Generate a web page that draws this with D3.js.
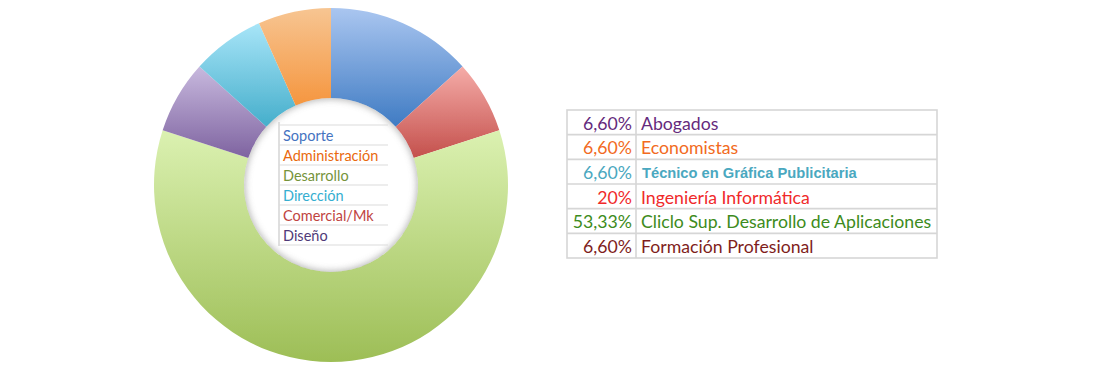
<!DOCTYPE html>
<html>
<head>
<meta charset="utf-8">
<script src="https://cdn.jsdelivr.net/npm/d3@7"></script>
<style>
  html, body { margin: 0; padding: 0; background: #ffffff; }
  svg { display: block; }
</style>
</head>
<body>
<svg id="chart" width="1110" height="370"></svg>
<script>
// ---- data ----
const sliceCategories = ["Soporte", "Comercial/Mk", "Desarrollo", "Diseño", "Dirección", "Administración"];
const sliceValues = [2, 1, 9, 1, 1, 1];
const sliceBaseColors = ["#3f7bc3", "#c4504c", "#9dbe56", "#7e63a0", "#45aecb", "#f5963f"];
const sliceLightColors = ["#aac6f0", "#f5aca8", "#dbf1b1", "#c8b9de", "#a8e5f8", "#f7c592"];

const legendCategories = ["Soporte", "Administración", "Desarrollo", "Dirección", "Comercial/Mk", "Diseño"];
const legendColors = ["#4573bf", "#e9690e", "#75933a", "#35aed0", "#c0443f", "#4f3a78"];

const tablePercents = ["6,60%", "6,60%", "6,60%", "20%", "53,33%", "6,60%"];
const tableLabels = ["Abogados", "Economistas", "Técnico en Gráfica Publicitaria", "Ingeniería Informática", "Cliclo Sup. Desarrollo de Aplicaciones", "Formación Profesional"];
const tableColors = ["#652a7c", "#f26a22", "#4aa8c0", "#f02a2a", "#3d8b20", "#7f1e1c"];

// ---- layout ----
const svg = d3.select("#chart");
const cx = 331, cy = 185, outerR = 177, innerR = 87;
const defs = svg.append("defs");

sliceCategories.forEach((c, i) => {
  const g = defs.append("linearGradient")
    .attr("id", "grad" + i).attr("x1", 0).attr("y1", 0).attr("x2", 0).attr("y2", 1);
  g.append("stop").attr("offset", "0%").attr("stop-color", sliceLightColors[i]);
  g.append("stop").attr("offset", "100%").attr("stop-color", sliceBaseColors[i]);
});

const blur = defs.append("filter").attr("id", "blur").attr("x", "-20%").attr("y", "-20%").attr("width", "140%").attr("height", "140%");
blur.append("feGaussianBlur").attr("stdDeviation", 3.5);
const softEdge = defs.append("filter").attr("id", "soft").attr("x", "-10%").attr("y", "-10%").attr("width", "120%").attr("height", "120%");
softEdge.append("feGaussianBlur").attr("stdDeviation", 0.6);

defs.append("clipPath").attr("id", "holeClip")
  .append("circle").attr("cx", cx).attr("cy", cy).attr("r", innerR);

const pie = d3.pie().sort(null).value(d => d);
const arc = d3.arc().innerRadius(innerR).outerRadius(outerR);

const donut = svg.append("g").attr("transform", `translate(${cx},${cy})`);
donut.selectAll("path.slice")
  .data(pie(sliceValues))
  .join("path")
  .attr("class", "slice")
  .attr("d", arc)
  .attr("fill", (d, i) => `url(#grad${i})`)
  .attr("filter", "url(#soft)");

// inner shadow of the hole
svg.append("g").attr("clip-path", "url(#holeClip)")
  .append("circle")
  .attr("cx", cx).attr("cy", cy).attr("r", innerR + 3)
  .attr("fill", "none").attr("stroke", "#9a9a9a").attr("stroke-width", 8)
  .attr("opacity", 0.75)
  .attr("filter", "url(#blur)");

// ---- legend table inside hole ----
const legY = d3.scaleBand().domain(legendCategories).range([125, 245]);
const legX0 = 279, legX1 = 388;
const leg = svg.append("g");
leg.append("line").attr("x1", legX0).attr("x2", legX0).attr("y1", 122).attr("y2", 246)
  .attr("stroke", "#d4d4d4").attr("stroke-width", 1.5);
leg.selectAll("line.h")
  .data(legendCategories.concat(["__end"]))
  .join("line").attr("class", "h")
  .attr("x1", legX0).attr("x2", legX1)
  .attr("y1", (d, i) => i < legendCategories.length ? legY(d) : legY.range()[1])
  .attr("y2", (d, i) => i < legendCategories.length ? legY(d) : legY.range()[1])
  .attr("stroke", "#dcdcdc").attr("stroke-width", 1.2);
leg.selectAll("text")
  .data(legendCategories)
  .join("text")
  .attr("x", 283)
  .attr("y", d => legY(d) + legY.bandwidth() - 4.5)
  .attr("fill", (d, i) => legendColors[i])
  .style("font-family", "Lato, 'Open Sans', sans-serif")
  .style("font-size", "14.5px")
  .text(d => d);

// ---- right table ----
const tabY = d3.scaleBand().domain(tableLabels).range([110, 258]);
const tX0 = 567, tXdiv = 636, tX1 = 937;
const tab = svg.append("g");
tab.append("rect").attr("x", tX0).attr("y", 110).attr("width", tX1 - tX0).attr("height", 148)
  .attr("fill", "none").attr("stroke", "#d6d6d6").attr("stroke-width", 1.6);
tab.append("line").attr("x1", tXdiv).attr("x2", tXdiv).attr("y1", 110).attr("y2", 258)
  .attr("stroke", "#d6d6d6").attr("stroke-width", 1.6);
tab.selectAll("line.row")
  .data(tableLabels.slice(1))
  .join("line").attr("class", "row")
  .attr("x1", tX0).attr("x2", tX1)
  .attr("y1", d => tabY(d)).attr("y2", d => tabY(d))
  .attr("stroke", "#d6d6d6").attr("stroke-width", 1.6);

tab.selectAll("text.pct")
  .data(tablePercents)
  .join("text").attr("class", "pct")
  .attr("x", 632)
  .attr("y", (d, i) => tabY(tableLabels[i]) + tabY.bandwidth() - 5)
  .attr("text-anchor", "end")
  .attr("fill", (d, i) => tableColors[i])
  .style("font-family", "Lato, 'Open Sans', sans-serif")
  .style("font-size", "17.7px")
  .text(d => d);

tab.selectAll("text.lbl")
  .data(tableLabels)
  .join("text").attr("class", "lbl")
  .attr("x", (d, i) => i === 2 ? 642 : 641)
  .attr("y", d => tabY(d) + tabY.bandwidth() - 5 - (d.startsWith("Técnico") ? 1 : 0))
  .attr("fill", (d, i) => tableColors[i])
  .style("font-family", d => d.startsWith("Técnico") ? "'Liberation Sans', Arial, sans-serif" : "Lato, 'Open Sans', sans-serif")
  .style("font-weight", d => d.startsWith("Técnico") ? "bold" : "normal")
  .style("font-size", d => d.startsWith("Técnico") ? "14.7px" : "17.7px")
  .text(d => d);
</script>
</body>
</html>
